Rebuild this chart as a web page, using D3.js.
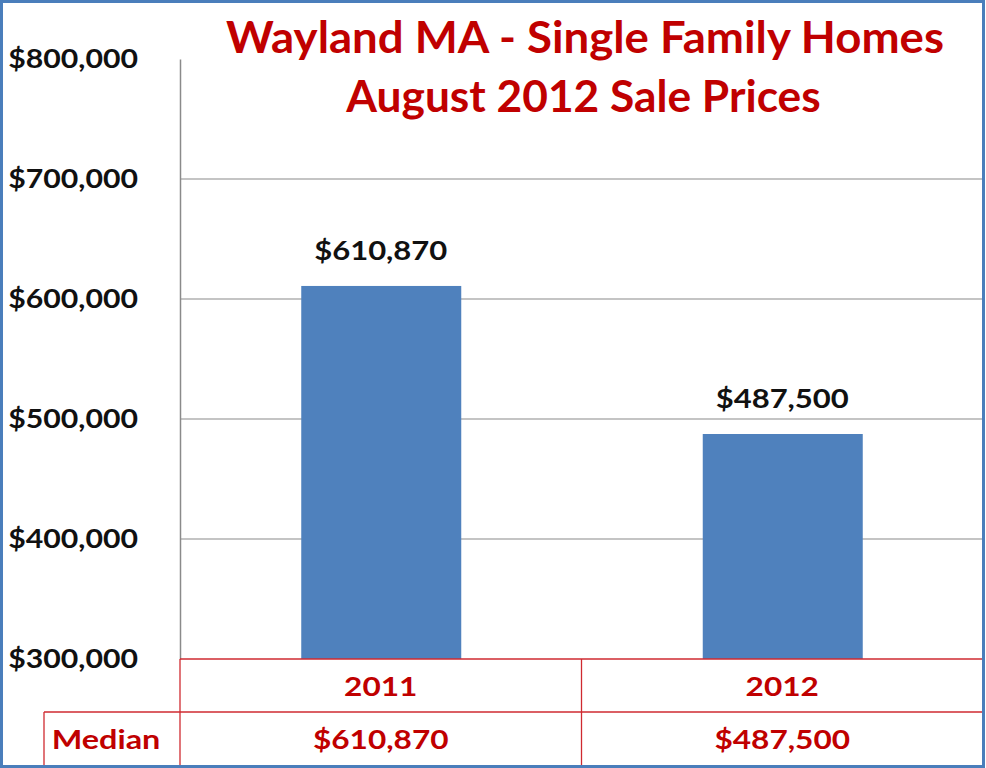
<!DOCTYPE html>
<html><head><meta charset="utf-8">
<script src="https://cdn.jsdelivr.net/npm/d3@7"></script>
<style>body{margin:0;background:#fff}svg{display:block}text{font-family:Lato,"Open Sans",sans-serif;font-weight:bold}</style>
</head><body>
<script>
const categories = ["2011", "2012"];
const medians = [610870, 487500];
const yTicks = [300000, 400000, 500000, 600000, 700000, 800000];
const titleLines = ["Wayland MA - Single Family Homes", "August 2012 Sale Prices"];
const rowLabel = "Median";

(function () {
const W = 986, H = 768;
const svg = d3.select("body").append("svg").attr("width", W).attr("height", H);
svg.append("rect").attr("x",0).attr("y",0).attr("width",W).attr("height",H).attr("fill","#fff");

const pLeft = 180, pRight = 983, pTop = 59, pBottom = 659;
const x = d3.scaleBand().domain(categories).range([pLeft, pRight]).paddingInner(0).paddingOuter(0);
const y = d3.scaleLinear().domain([300000, 800000]).range([pBottom, pTop]);
const fmt = v => "$" + d3.format(",")(v);
const SX = 1.17;

// place horizontally stretched text
function stext(g, tx, ty, str, size, color, sx, anchor) {
  return g.append("text")
    .attr("transform", `translate(${tx},${ty}) scale(${sx},1)`)
    .attr("text-anchor", anchor || "middle")
    .attr("font-size", size).attr("fill", color).text(str);
}

// gridlines
svg.append("g").selectAll("line").data(yTicks.filter(t => t > 300000 && t < 800000)).join("line")
  .attr("x1", pLeft).attr("x2", pRight).attr("y1", d => y(d)).attr("y2", d => y(d))
  .attr("stroke", "#8a8a8a").attr("stroke-width", 1.2);

// y axis
const yAxis = d3.axisLeft(y).tickValues(yTicks).tickSize(0).tickPadding(0).tickFormat(fmt);
const ga = svg.append("g").attr("transform", `translate(${pLeft},0)`).call(yAxis);
ga.select(".domain").attr("stroke", "#8a8a8a").attr("stroke-width", 1.5);
ga.selectAll(".tick text")
  .attr("x", 0)
  .attr("transform", `translate(-42,0) scale(1.12,1)`)
  .attr("font-size", 27).attr("fill", "#111")
  .attr("font-family", "Lato").attr("font-weight", "bold");

// bars
const bw = 160;
svg.append("g").selectAll("rect").data(categories).join("rect")
  .attr("x", d => x(d) + x.bandwidth()/2 - bw/2 + 0.5)
  .attr("width", bw)
  .attr("y", (d,i) => y(medians[i]))
  .attr("height", (d,i) => y(300000) - y(medians[i]))
  .attr("fill", "#4f81bd");

// data labels
const lg = svg.append("g");
categories.forEach((c, i) => {
  stext(lg, x(c) + x.bandwidth()/2, y(medians[i]) - 26, fmt(medians[i]), 26.5, "#111", SX);
});

// title
const tg0 = svg.append("g");
const tsx = [1.06, 1.03];
titleLines.forEach((t, i) => {
  stext(tg0, 585 - i*1.5, 53 + i*59, t, 43, "#c00000", tsx[i]);
});

// data table
const red = "#cf2a30";
const rowH = 53, r1 = pBottom, r2 = pBottom + rowH, r3 = 765, tabLeft = 44;
const tg = svg.append("g").attr("stroke", red).attr("stroke-width", 1.3).attr("fill", "none");
tg.append("line").attr("x1", pLeft).attr("x2", pRight).attr("y1", r1).attr("y2", r1);
tg.append("line").attr("x1", tabLeft).attr("x2", pRight).attr("y1", r2).attr("y2", r2);
tg.append("line").attr("x1", tabLeft).attr("x2", tabLeft).attr("y1", r2).attr("y2", r3);
[pLeft, ...categories.slice(1).map(c => x(c)), pRight].forEach(xx => {
  tg.append("line").attr("x1", xx).attr("x2", xx).attr("y1", r1).attr("y2", r3);
});
const tt = svg.append("g");
categories.forEach((c, i) => {
  stext(tt, x(c) + x.bandwidth()/2, r1 + 37, c, 27, "#c00000", SX);
  stext(tt, x(c) + x.bandwidth()/2, r2 + 37, fmt(medians[i]), 27, "#c00000", SX);
});
stext(tt, 106, r2 + 37, rowLabel, 27, "#c00000", 1.2);

// outer border
svg.append("rect").attr("x", 1.5).attr("y", 1.5).attr("width", W - 4).attr("height", H - 3)
  .attr("fill", "none").attr("stroke", "#4a7ebb").attr("stroke-width", 3);
})();
</script>
</body></html>
